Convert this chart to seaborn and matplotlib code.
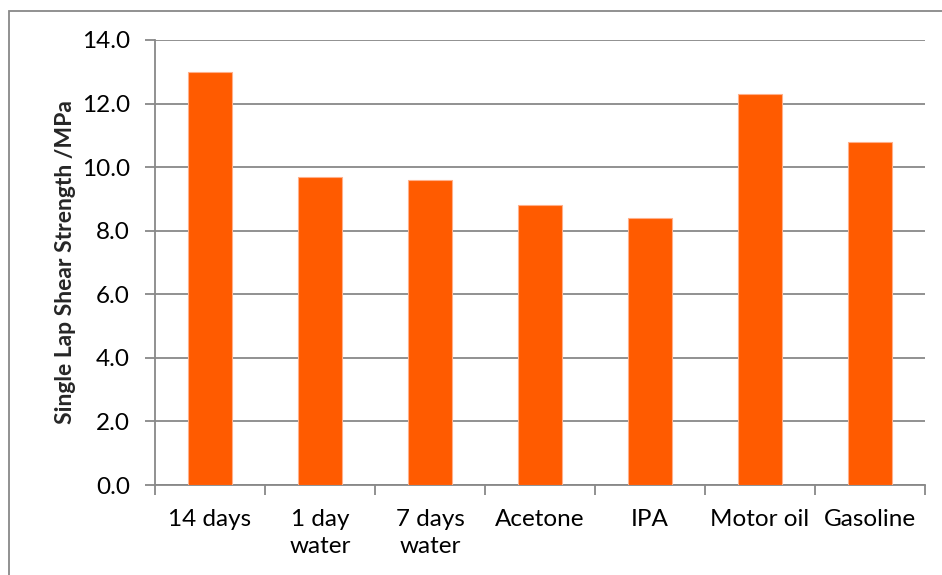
import matplotlib
matplotlib.use("Agg")
import matplotlib.pyplot as plt
import seaborn as sns
import pandas as pd
from matplotlib.patches import Rectangle
from matplotlib.ticker import FixedLocator, FormatStrFormatter

categories = ["14 days", "1 day\nwater", "7 days\nwater", "Acetone", "IPA", "Motor oil", "Gasoline"]
values = [13.0, 9.7, 9.6, 8.8, 8.4, 12.3, 10.8]
yticks = [0, 2, 4, 6, 8, 10, 12, 14]

sns.set_theme(style="white")
plt.rcParams["font.family"] = ["Lato", "DejaVu Sans"]

df = pd.DataFrame({"cat": categories, "val": values})

fig = plt.figure(figsize=(9.42, 5.75), dpi=100)
ax = fig.add_axes([155/942, 1-485/575, 770/942, 445/575])

sns.barplot(data=df, x="cat", y="val", color="#FF5B00", width=0.4, saturation=1,
            edgecolor="#FFB08A", linewidth=0.8, ax=ax, zorder=3)

ax.set_ylim(0, 14)
ax.set_xlim(-0.5, len(categories) - 0.5)
ax.set_yticks(yticks)
ax.yaxis.set_major_formatter(FormatStrFormatter("%.1f"))
ax.yaxis.grid(True, color="#888888", linewidth=1.3, zorder=0)
ax.set_axisbelow(True)

for s in ["top", "right"]:
    ax.spines[s].set_visible(False)
for s in ["left", "bottom"]:
    ax.spines[s].set_color("#888888")
    ax.spines[s].set_linewidth(1.3)

ax.tick_params(axis="y", which="major", left=True, length=7, width=1.3, color="#888888",
               labelsize=17.5, pad=11, labelcolor="black")
ax.tick_params(axis="x", which="major", length=0, labelsize=17.5, pad=17, labelcolor="black")
ax.xaxis.set_minor_locator(FixedLocator([i - 0.5 for i in range(len(categories) + 1)]))
ax.tick_params(axis="x", which="minor", bottom=True, length=7, width=1.3, color="#888888")
for lbl in ax.get_xticklabels():
    lbl.set_verticalalignment("top")
    lbl.set_linespacing(1.4)

ax.set_xlabel("")
ax.set_ylabel("Single Lap Shear Strength /MPa", fontsize=16.5, fontweight="bold", labelpad=4)

# outer chart-area border (continues past the right and bottom image edges)
fig.patches.append(Rectangle((9/942, -0.05), 1.0, 1.05 - 11/575, transform=fig.transFigure,
                             fill=False, edgecolor="#888888", linewidth=1.3))

fig.savefig("out.png", dpi=100)
